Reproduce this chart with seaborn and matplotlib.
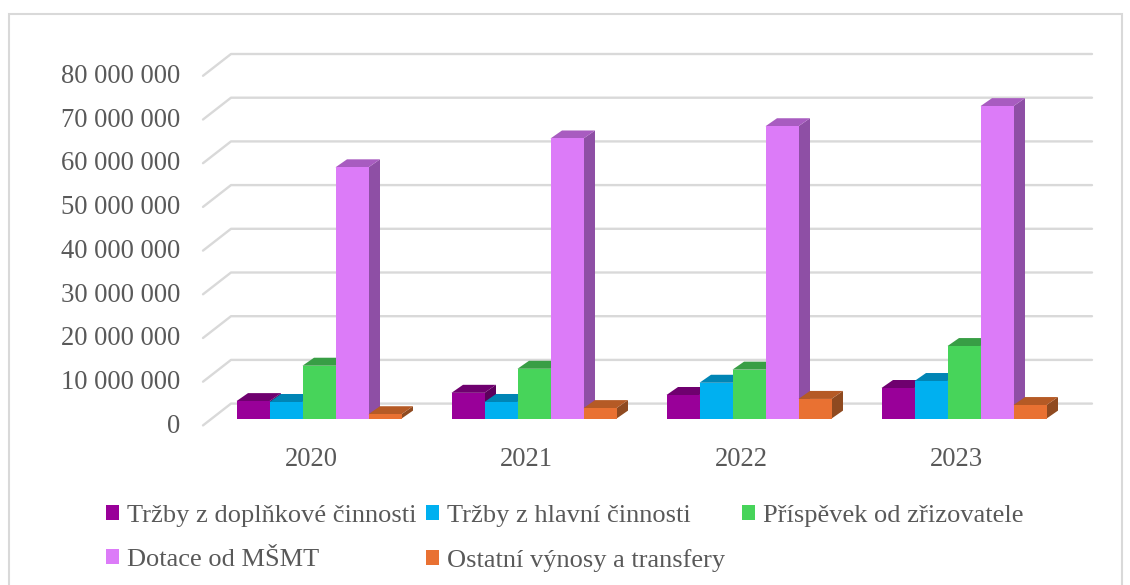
"""Revenue sources by year, drawn as a faux 3D clustered bar chart."""

import matplotlib
matplotlib.use("Agg")
import matplotlib.pyplot as plt
import pandas as pd
import seaborn as sns
from matplotlib.patches import Polygon, Rectangle
from matplotlib.ticker import FuncFormatter
from matplotlib.transforms import Affine2D, IdentityTransform

years = ["2020", "2021", "2022", "2023"]
series_names = [
    "Tržby z doplňkové činnosti",
    "Tržby z hlavní činnosti",
    "Příspěvek od zřizovatele",
    "Dotace od MŠMT",
    "Ostatní výnosy a transfery",
]
doplnkova = [4.0e6, 5.9e6, 5.4e6, 7.0e6]
hlavni = [3.8e6, 3.8e6, 8.2e6, 8.6e6]
zrizovatel = [12.1e6, 11.4e6, 11.2e6, 16.6e6]
msmt = [57.5e6, 64.1e6, 66.9e6, 71.5e6]
ostatni = [1.0e6, 2.4e6, 4.5e6, 3.1e6]
y_ticks = [0, 10e6, 20e6, 30e6, 40e6, 50e6, 60e6, 70e6, 80e6]

front_colors = ["#990099", "#00B0F0", "#47D45A", "#DC7BF8", "#E97132"]
top_colors = ["#6F006F", "#0085B5", "#389E45", "#A85CC0", "#B55A25"]
side_colors = ["#5C005C", "#006F98", "#2E8439", "#8E4FA5", "#8F4A20"]

W, H = 1130, 585
TEXT = "#595959"
GRID = "#D9D9D9"
DX, DY = 11.5, 8  # bar depth in pixels

df = pd.DataFrame({
    "year": years * 5,
    "series": [name for name in series_names for _ in years],
    "value": doplnkova + hlavni + zrizovatel + msmt + ostatni,
})

sns.set_theme(style="white")
plt.rcParams["font.family"] = ["Liberation Serif", "DejaVu Serif"]

fig = plt.figure(figsize=(W / 100, H / 100), dpi=100)
# bars of 2020 centred on x=319 px, 215 px between groups, zero at y=418.6 px
px_per_unit = 43.7 / 10e6
bottom = H - 418.6
top = 50
ax = fig.add_axes([211.5 / W, bottom / H, 860 / W, (H - top - bottom) / H])

sns.barplot(
    data=df, x="year", y="value", hue="series", order=years,
    hue_order=series_names, palette=front_colors, width=165 / 215, gap=0,
    saturation=1, errorbar=None, linewidth=0, ax=ax,
)
ax.set_xlim(-0.5, 3.5)
ax.set_ylim(0, (H - top - bottom) / px_per_unit)
ax.set_xlabel("")
ax.set_ylabel("")
sns.despine(ax=ax, left=True, bottom=True)
ax.patch.set_alpha(0)

# tick labels sit on the front edge of the floor, not at the bars
ax.set_yticks(y_ticks)
ax.yaxis.set_major_formatter(
    FuncFormatter(lambda v, _: f"{int(v):,}".replace(",", " "))
)
ax.tick_params(axis="both", length=0, labelsize=19.2, labelcolor=TEXT)
y_shift = Affine2D().translate(-26.5, -4.5)
x_shift = Affine2D().translate(-8, -24)
for label in ax.get_yticklabels():
    label.set_transform(label.get_transform() + y_shift)
for label in ax.get_xticklabels():
    label.set_transform(label.get_transform() + x_shift)

# back wall grid and the slanted lines on the left side wall
ident = IdentityTransform()
for tick in y_ticks:
    y = ax.transData.transform((0, tick))[1]
    ax.plot([203, 231, 1092], [y - 6.8, y + 15, y + 15], color=GRID, lw=1.7,
            transform=ident, clip_on=False, zorder=1)

# depth faces, drawn left to right so nearer bars cover the previous side
bars = [p for p in ax.patches if p.get_width() > 0]
for i, bar in enumerate(sorted(bars, key=lambda p: p.get_x())):
    color_idx = front_colors.index(matplotlib.colors.to_hex(bar.get_facecolor()).upper())
    x0, y0 = ax.transData.transform((bar.get_x(), 0))
    x1, y1 = ax.transData.transform((bar.get_x() + bar.get_width(), bar.get_height()))
    z = 3 + i * 0.1
    bar.set_zorder(z + 0.02)
    ax.add_patch(Polygon(
        [(x1, y0), (x1 + DX, y0 + DY), (x1 + DX, y1 + DY), (x1, y1)],
        facecolor=side_colors[color_idx], transform=ident, zorder=z, lw=0,
    ))
    ax.add_patch(Polygon(
        [(x0, y1), (x1, y1), (x1 + DX, y1 + DY), (x0 + DX, y1 + DY)],
        facecolor=top_colors[color_idx], transform=ident, zorder=z + 0.01, lw=0,
    ))

# legend columns have equal widths in the original, so one legend per column
handles, labels = ax.get_legend_handles_labels()
ax.get_legend().remove()
for col_x, idx in zip([105.5, 425.5, 741.5], [[0, 3], [1, 4], [2]]):
    fig.legend(
        [handles[i] for i in idx], [labels[i] for i in idx],
        loc="upper left", bbox_to_anchor=(col_x / W, (H - 505) / H),
        bbox_transform=fig.transFigure, frameon=False, fontsize=19,
        labelcolor=TEXT, handlelength=0.51, handleheight=0.51,
        handletextpad=0.3, borderpad=0, borderaxespad=0, labelspacing=0.83,
    )

# chart frame
fig.add_artist(Rectangle((8.5 / W, -0.05), (W - 17) / W, (H - 14) / H + 0.05,
                         transform=fig.transFigure, fill=False,
                         edgecolor="#D9D9D9", lw=1.5))

fig.savefig("out.png", dpi=100)
